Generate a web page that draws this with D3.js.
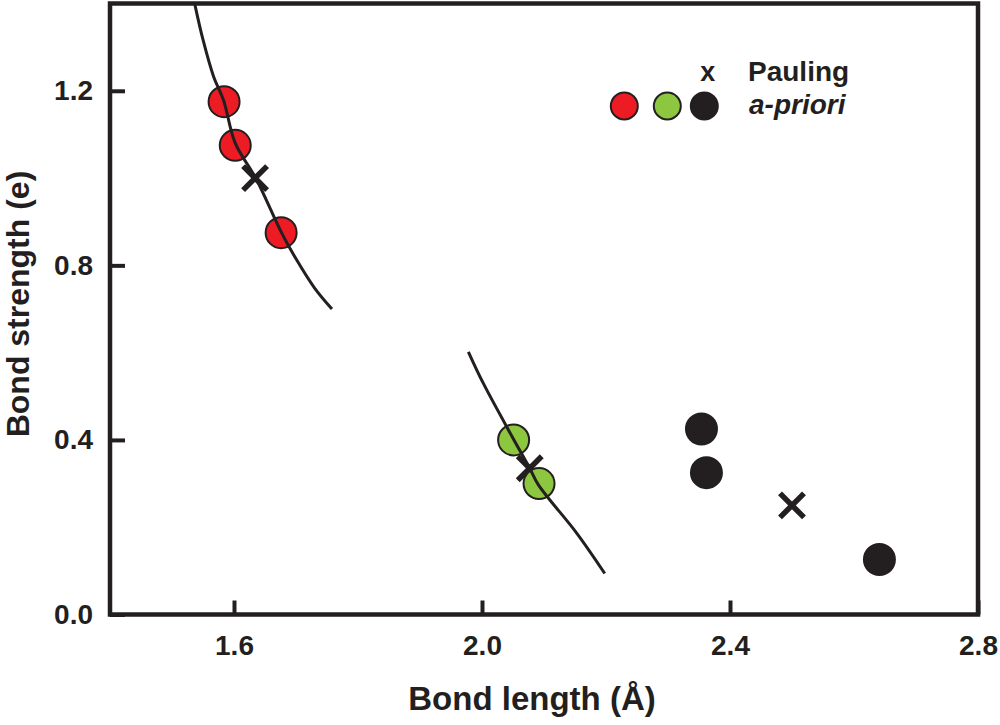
<!DOCTYPE html>
<html>
<head>
<meta charset="utf-8">
<script src="https://cdn.jsdelivr.net/npm/d3@7"></script>
<style>
  body { margin: 0; background: #fff; }
  text { font-family: "Liberation Sans", Arial, Helvetica, sans-serif; font-weight: bold; fill: #231f20; }
</style>
</head>
<body>
<svg id="chart" width="1000" height="725"></svg>
<script>
// data
const redPts = [[1.584, 1.175], [1.602, 1.075], [1.676, 0.875]];
const greenPts = [[2.051, 0.40], [2.092, 0.30]];
const blackPts = [[2.354, 0.425], [2.362, 0.325], [2.641, 0.126]];
const paulingPts = [[1.634, 1.0], [2.077, 0.335], [2.50, 0.25]];

// traced fitted curves
const curve1 = [[1.537, 1.397], [1.550, 1.317], [1.567, 1.233], [1.583, 1.179], [1.602, 1.080],
  [1.635, 1.000], [1.677, 0.874], [1.700, 0.815], [1.730, 0.748], [1.758, 0.700]];
const curve2 = [[1.978, 0.602], [2.002, 0.530], [2.050, 0.404], [2.077, 0.335], [2.091, 0.297],
  [2.153, 0.186], [2.198, 0.094]];

const xTicks = [1.6, 2.0, 2.4, 2.8];
const yTicks = [0.0, 0.4, 0.8, 1.2];

const ink = '#231f20';
const colors = { red: '#ed1c24', green: '#8dc63f', black: '#231f20' };

const svg = d3.select('#chart');

const x = d3.scaleLinear().domain([1.4, 2.8]).range([110, 978]);
const y = d3.scaleLinear().domain([0, 1.4]).range([614.5, 3.5]);

// axes with inward ticks
svg.append('g')
  .attr('transform', `translate(0,${y(0)})`)
  .call(d3.axisBottom(x).tickValues(xTicks).tickFormat(d3.format('.1f'))
    .tickSize(-14).tickPadding(21))
  .call(g => g.select('.domain').remove())
  .call(g => g.selectAll('line').attr('stroke', ink).attr('stroke-width', 4))
  .call(g => g.selectAll('text').style('font-size', '28px').attr('fill', ink));

svg.append('g')
  .attr('transform', `translate(${x(1.4)},0)`)
  .call(d3.axisLeft(y).tickValues(yTicks).tickFormat(d3.format('.1f'))
    .tickSize(-15).tickPadding(17))
  .call(g => g.select('.domain').remove())
  .call(g => g.selectAll('line').attr('stroke', ink).attr('stroke-width', 4))
  .call(g => g.selectAll('text').style('font-size', '28px').attr('fill', ink));

// frame
svg.append('rect')
  .attr('x', x(1.4)).attr('y', y(1.4))
  .attr('width', x(2.8) - x(1.4)).attr('height', y(0) - y(1.4))
  .attr('fill', 'none').attr('stroke', ink).attr('stroke-width', 4.5);

// axis titles
svg.append('text')
  .attr('x', 532).attr('y', 710)
  .attr('text-anchor', 'middle')
  .style('font-size', '33px')
  .text('Bond length (Å)');

svg.append('text')
  .attr('transform', 'translate(29,304) rotate(-90)')
  .attr('text-anchor', 'middle')
  .style('font-size', '32px')
  .text('Bond strength (e)');

// Pauling crosses
const crossSize = 12;
const crosses = svg.append('g');
paulingPts.forEach(p => {
  const cx = x(p[0]), cy = y(p[1]);
  crosses.append('path')
    .attr('d', `M${cx - crossSize},${cy - crossSize}L${cx + crossSize},${cy + crossSize}M${cx - crossSize},${cy + crossSize}L${cx + crossSize},${cy - crossSize}`)
    .attr('stroke', ink).attr('stroke-width', 5.5).attr('fill', 'none');
});

// a-priori circles
const groups = [[redPts, colors.red], [greenPts, colors.green], [blackPts, colors.black]];
groups.forEach(([pts, col]) => {
  svg.append('g').selectAll('circle')
    .data(pts)
    .enter()
    .append('circle')
    .attr('cx', d => x(d[0]))
    .attr('cy', d => y(d[1]))
    .attr('r', 15.5)
    .attr('fill', col)
    .attr('stroke', ink)
    .attr('stroke-width', 2);
});

// fitted curves
const line = d3.line().x(d => x(d[0])).y(d => y(d[1])).curve(d3.curveCatmullRom.alpha(0.5));
[curve1, curve2].forEach(c => {
  svg.append('path')
    .attr('d', line(c))
    .attr('fill', 'none')
    .attr('stroke', ink)
    .attr('stroke-width', 3);
});

// legend
const legend = svg.append('g');
legend.append('text')
  .attr('x', 707.7).attr('y', 80.5)
  .attr('text-anchor', 'middle')
  .style('font-size', '27px')
  .text('x');
legend.append('text')
  .attr('x', 748).attr('y', 80.7)
  .style('font-size', '28px')
  .text('Pauling');
legend.append('text')
  .attr('x', 749).attr('y', 113.5)
  .style('font-size', '28px')
  .style('font-style', 'italic')
  .text('a-priori');
legend.selectAll('circle')
  .data([colors.red, colors.green, colors.black])
  .enter()
  .append('circle')
  .attr('cx', (d, i) => [624.3, 667.3, 704.3][i])
  .attr('cy', 106)
  .attr('r', 13.5)
  .attr('fill', d => d)
  .attr('stroke', ink)
  .attr('stroke-width', 2);
</script>
</body>
</html>
